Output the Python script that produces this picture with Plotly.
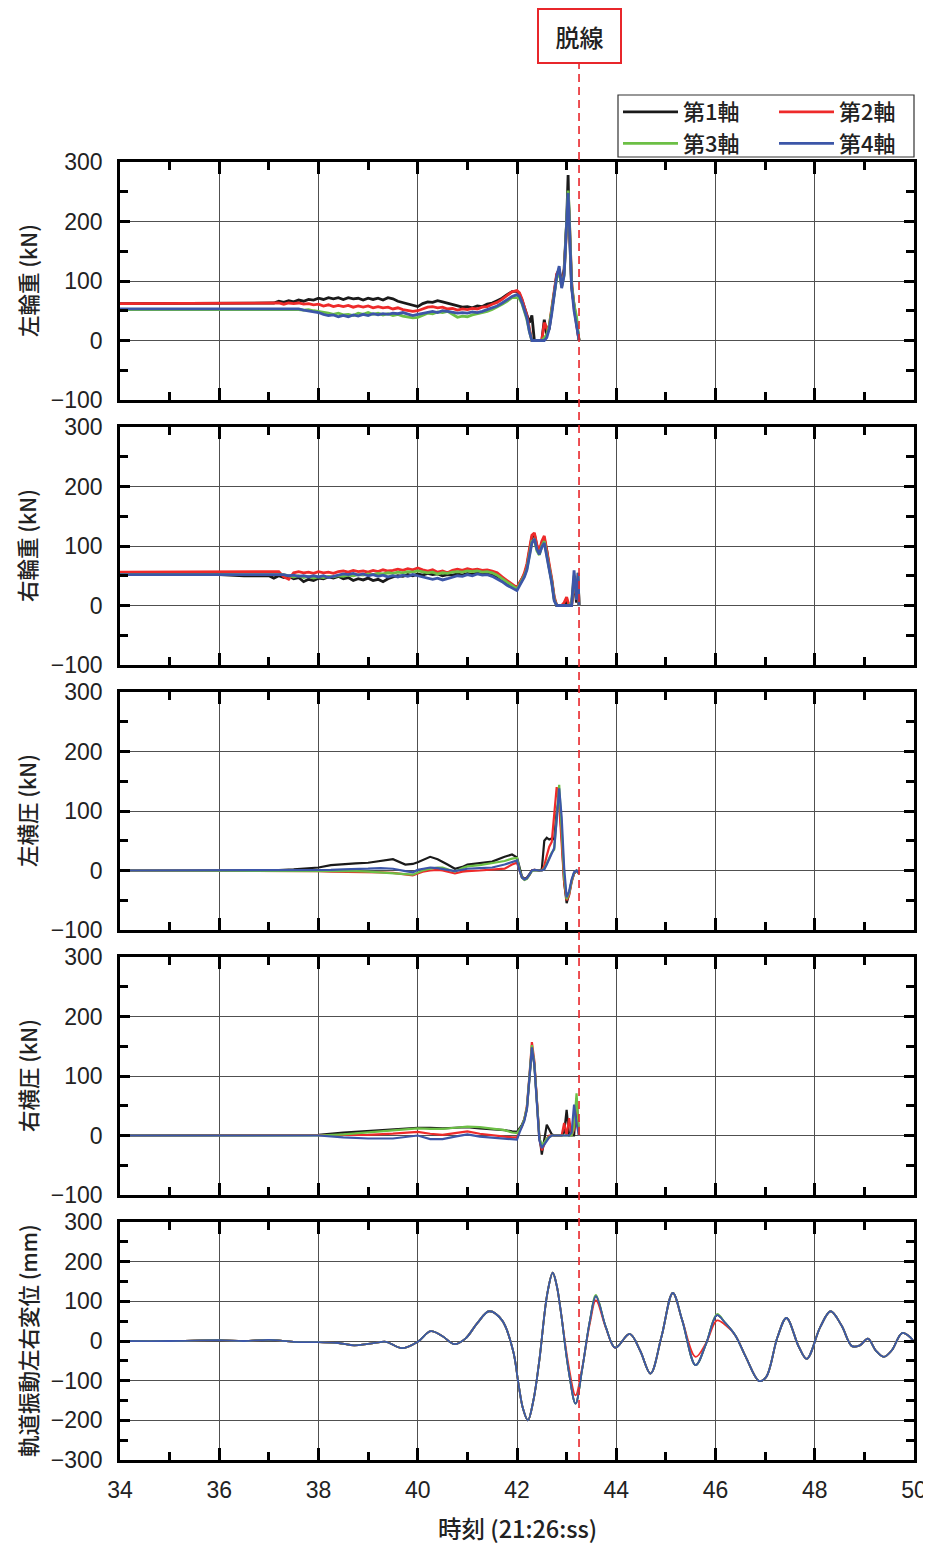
import plotly.graph_objects as go
from plotly.subplots import make_subplots

# ---------------- data ----------------
SERIES_NAMES = ["第1軸", "第2軸", "第3軸", "第4軸"]
SERIES_COLORS = ["#1a1a1a", "#ee2a2a", "#6cbf45", "#3c56a8"]
SERIES_LEGEND = ["legend", "legend2", "legend", "legend2"]

Y_TITLES = ["左輪重 (kN)", "右輪重 (kN)", "左横圧 (kN)", "右横圧 (kN)", "軌道振動左右変位 (mm)"]
X_TITLE = "時刻 (21:26:ss)"
EVENT_LABEL = "脱線"
EVENT_TIME = 43.25

# Panel 1/2 time base
T12 = [34.0, 35.0, 36.0, 36.5, 37.0,
       37.1, 37.2, 37.3, 37.4, 37.5, 37.6, 37.7, 37.8, 37.9, 38.0,
       38.1, 38.2, 38.3, 38.4, 38.5, 38.6, 38.7, 38.8, 38.9, 39.0,
       39.1, 39.2, 39.3, 39.4, 39.5, 39.6, 39.7, 39.8, 39.9, 40.0,
       40.1, 40.2, 40.3, 40.4, 40.5, 40.6, 40.7, 40.8, 40.9, 41.0,
       41.1, 41.2, 41.3, 41.4, 41.5, 41.6, 41.7, 41.8, 41.9]
T1_ACTIVE = [42.0, 42.05, 42.1, 42.15, 42.2, 42.25, 42.3, 42.35, 42.4, 42.45, 42.5, 42.55, 42.6, 42.65,
             42.7, 42.75, 42.8, 42.85, 42.9, 42.95, 43.0, 43.03, 43.05, 43.1, 43.15, 43.2, 43.25]
T2_ACTIVE = [42.0, 42.05, 42.1, 42.15, 42.2, 42.25, 42.3, 42.35, 42.4, 42.45, 42.5, 42.55, 42.6, 42.65,
             42.7, 42.75, 42.8, 42.85, 42.9, 42.95, 43.0, 43.05, 43.1, 43.15, 43.2, 43.23, 43.25]

# 左輪重
L_WHEEL_1 = [62, 62, 62, 62, 62,
             63, 66, 64, 67, 65, 68, 66, 69, 68, 71, 69, 72, 70, 72, 69, 72, 70, 71, 68, 71,
             69, 71, 68, 72, 70, 66, 64, 61, 59, 57, 62, 65, 64, 67, 65, 63, 60, 58, 56, 57,
             55, 58, 57, 61, 63, 67, 71, 77, 82,
             83, 78, 68, 55, 40, 30, 42, 0, 0, 0, 0, 35, 10, 20, 50, 85, 110, 120, 95, 120, 200, 278, 200, 90, 55, 30, 0]
L_WHEEL_2 = [62, 62, 62, 62, 62,
             62, 63, 61, 63, 62, 63, 61, 62, 60, 61, 58, 60, 57, 59, 57, 59, 56, 58, 56, 58,
             55, 57, 55, 56, 53, 55, 52, 51, 49, 50, 53, 56, 57, 55, 56, 53, 54, 51, 53, 52,
             54, 53, 56, 57, 61, 64, 69, 75, 82,
             84, 80, 70, 57, 42, 20, 0, 0, 0, 0, 0, 30, 20, 25, 55, 85, 112, 118, 92, 115, 190, 235, 215, 100, 55, 25, 0]
L_WHEEL_3 = [52, 52, 52, 52, 52,
             52, 52, 53, 52, 53, 52, 51, 52, 50, 49, 47, 46, 44, 46, 43, 44, 42, 46, 44, 47,
             44, 46, 43, 45, 42, 44, 41, 40, 38, 39, 43, 46, 45, 48, 47, 49, 44, 39, 41, 40,
             43, 45, 46, 49, 52, 56, 61, 66, 72,
             72, 70, 62, 50, 35, 15, 0, 0, 0, 0, 0, 5, 10, 25, 50, 80, 105, 115, 90, 110, 200, 252, 220, 95, 60, 40, 0]
L_WHEEL_4 = [53, 53, 53, 53, 53,
             53, 53, 52, 53, 52, 53, 51, 50, 48, 47, 44, 42, 43, 40, 42, 40, 43, 41, 44, 42,
             45, 43, 45, 44, 46, 45, 47, 44, 42, 44, 46, 48, 49, 47, 50, 49, 48, 46, 47, 46,
             48, 47, 49, 52, 54, 58, 63, 68, 74,
             77, 74, 64, 52, 38, 15, 0, 0, 0, 0, 0, 0, 5, 20, 45, 80, 108, 125, 88, 110, 195, 248, 210, 90, 50, 25, 0]

# 右輪重
R_WHEEL_1 = [52, 52, 52, 50, 50,
             46, 50, 47, 49, 45, 47, 40, 44, 42, 46, 45, 48, 46, 49, 45, 47, 42, 45, 43, 46,
             42, 44, 40, 45, 48, 50, 49, 52, 50, 53, 51, 54, 52, 53, 50, 52, 51, 53, 51, 54,
             52, 55, 53, 55, 52, 49, 44, 38, 33,
             30, 37, 44, 52, 66, 90, 115, 120, 100, 90, 105, 112, 92, 64, 42, 12, 0, 0, 0, 0, 8, 0, 0, 40, 5, 45, 0]
R_WHEEL_2 = [56, 56, 56, 56, 56,
             56, 57, 48, 44, 55, 57, 55, 56, 54, 57, 55, 56, 54, 57, 58, 56, 59, 57, 58, 56,
             59, 57, 60, 58, 59, 61, 59, 62, 60, 63, 60, 58, 60, 56, 58, 55, 59, 61, 59, 62,
             60, 61, 59, 60, 58, 55, 48, 42, 36,
             30, 38, 45, 55, 70, 95, 118, 122, 102, 92, 108, 117, 95, 68, 45, 15, 0, 0, 0, 5, 14, 0, 0, 45, 10, 50, 0]
R_WHEEL_3 = [52, 52, 52, 52, 52,
             52, 51, 52, 50, 48, 50, 47, 49, 46, 48, 47, 49, 48, 50, 49, 51, 50, 52, 51, 53,
             52, 54, 53, 55, 54, 56, 55, 57, 56, 58, 56, 55, 56, 53, 55, 54, 56, 57, 56, 58,
             57, 58, 56, 57, 55, 51, 45, 39, 33,
             28, 35, 42, 50, 62, 85, 108, 110, 92, 85, 100, 108, 88, 62, 40, 10, 0, 0, 0, 0, 0, 0, 5, 50, 15, 55, 0]
R_WHEEL_4 = [52, 52, 52, 52, 52,
             52, 51, 52, 50, 51, 49, 50, 48, 50, 48, 50, 47, 49, 51, 53, 52, 54, 51, 53, 50,
             52, 49, 51, 48, 50, 48, 51, 49, 52, 50, 48, 46, 44, 46, 43, 45, 48, 50, 49, 52,
             50, 53, 51, 52, 49, 45, 40, 34, 29,
             25, 33, 40, 48, 60, 82, 105, 112, 95, 86, 98, 105, 85, 60, 38, 8, 0, 0, 0, 0, 0, 0, 0, 59, 10, 55, 0]

# 左横圧
T3 = [34, 36, 37, 37.5, 38, 38.25, 38.5, 38.75, 39, 39.25, 39.5, 39.75, 39.9, 40.0, 40.1, 40.25,
      40.4, 40.5, 40.6, 40.75, 40.9, 41.0, 41.25, 41.5, 41.75, 41.9,
      42.0, 42.05, 42.1, 42.15, 42.2, 42.25, 42.3, 42.35, 42.4, 42.45, 42.5, 42.55, 42.6, 42.65,
      42.7, 42.75, 42.8, 42.85, 42.9, 42.95, 43.0, 43.05, 43.1, 43.15, 43.2, 43.25]
L_LAT_1 = [0, 0, 0, 2, 5, 9, 11, 12, 13, 16, 19, 10, 11, 14, 18, 23, 19, 15, 10, 3, 6, 10, 13, 15, 23, 27,
           22, 5, -10, -14, -12, -6, 0, 1, 0, 0, 2, 50, 55, 52, 54, 52, 100, 120, 60, -20, -55, -40, -18, -5, 0, -4]
L_LAT_2 = [0, 0, 0, 0, -1, -2, -2, -2, -2, -3, -4, -7, -8, -5, -2, 0, 1, 0, -2, -5, -2, -1, 0, 1, 3, 10,
           13, 0, -12, -15, -13, -8, 0, 1, 0, 0, 0, 8, 25, 40, 48, 100, 140, 110, 40, -20, -50, -42, -20, -5, -1, -5]
L_LAT_3 = [0, 0, 0, 0, 0, 0, 0, -1, -2, -3, -4, -6, -7, -3, 0, 3, 5, 5, 2, -2, 4, 7, 9, 12, 16, 20,
           21, 2, -12, -16, -14, -8, -1, 0, 0, 0, 0, 3, 12, 22, 30, 35, 90, 144, 70, -10, -48, -38, -18, -4, 0, -6]
L_LAT_4 = [0, 0, 0, 0, 0, 1, 2, 2, 3, 4, 3, -1, -3, 1, 3, 5, 4, 3, 1, -1, 2, 3, 4, 5, 10, 15,
           17, 0, -12, -15, -13, -7, 0, 1, 0, 0, 0, 2, 10, 20, 28, 38, 85, 138, 90, 5, -45, -35, -15, -3, 0, -5]

# 右横圧
T4 = [34, 36, 37, 37.5, 38, 38.5, 39, 39.5, 39.75, 40.0, 40.25, 40.5, 40.75, 41.0, 41.25, 41.5, 41.75, 41.9,
      42.0, 42.05, 42.1, 42.15, 42.2, 42.25, 42.3, 42.35, 42.4, 42.45, 42.5, 42.55, 42.6, 42.65,
      42.7, 42.75, 42.8, 42.85, 42.9, 42.95, 43.0, 43.05, 43.1, 43.15, 43.2, 43.25]
R_LAT_1 = [0, 0, 0, 0, 1, 5, 8, 10, 12, 13, 13, 12, 13, 14, 12, 11, 9, 7,
           6, 12, 18, 28, 45, 95, 145, 120, 60, 0, -32, -10, 18, 10, 2, 0, 0, 0, 0, 5, 43, 0, 0, 0, 55, 0]
R_LAT_2 = [0, 0, 0, 0, 0, 0, 1, 3, 5, 6, 3, 1, 4, 7, 3, 0, -2, -3,
           -3, 8, 15, 28, 50, 100, 157, 125, 62, -5, -25, -15, -5, 0, 0, 0, 0, 0, 0, 21, 0, 29, 0, 10, 63, 0]
R_LAT_3 = [0, 0, 0, 0, 0, 2, 5, 8, 10, 12, 11, 11, 13, 15, 14, 12, 9, 5,
           4, 10, 16, 28, 48, 98, 152, 120, 60, -5, -15, -12, -5, -2, 0, 0, 0, 0, 0, 0, 0, 0, 0, 15, 71, 0]
R_LAT_4 = [0, 0, 0, 0, 0, -3, -5, -5, -2, 0, -6, -6, -2, 2, -2, -4, -5, -6,
           -7, 5, 14, 25, 45, 95, 148, 118, 55, -8, -21, -15, -8, -3, 0, 0, 0, 0, 0, 0, 0, 0, 5, 52, 20, 0]

# 軌道振動左右変位
T5 = [34, 35, 36, 36.5, 37, 37.5, 38, 38.4, 38.72, 39.0, 39.14, 39.36, 39.68, 40.0, 40.26, 40.5,
      40.74, 40.96, 41.2, 41.44, 41.7, 41.92, 42.03, 42.12, 42.22, 42.33, 42.45, 42.61, 42.72, 42.8,
      42.88, 43.04, 43.18, 43.31, 43.47, 43.59, 43.79, 43.98, 44.27, 44.48, 44.69, 44.91, 45.14, 45.33,
      45.6, 45.81, 46.03, 46.2, 46.4, 46.61, 46.88, 47.02, 47.25, 47.43, 47.68, 47.84, 48.11, 48.32,
      48.54, 48.75, 48.91, 49.07, 49.23, 49.39, 49.55, 49.76, 49.92, 50.0]
TRACK_1 = [0, 0, 2, 0, 3, -2, -3, -5, -11, -7, -5, -2, -18, -2, 25, 12, -8, 6, 45, 75, 52, -24, -108,
           -170, -200, -150, -49, 119, 172, 140, 77, -74, -158, -74, 52, 113, 35, -17, 18, -24, -82, 10,
           121, 52, -61, -7, 65, 45, 14, -40, -101, -91, 10, 58, -15, -45, 35, 75, 39, -13, -11, 6, -24,
           -40, -24, 20, 10, -3]
TRACK_2 = [0, 0, 2, 0, 3, -2, -3, -5, -11, -7, -5, -2, -18, -2, 25, 12, -8, 6, 45, 75, 52, -24, -108,
           -170, -200, -150, -49, 119, 172, 140, 77, -62, -137, -70, 45, 103, 33, -17, 18, -24, -82, 10,
           121, 52, -40, -5, 52, 40, 14, -40, -101, -91, 10, 58, -15, -45, 35, 75, 39, -13, -11, 6, -24,
           -40, -24, 20, 10, -3]
TRACK_3 = [0, 0, 2, 0, 3, -2, -3, -5, -11, -7, -5, -2, -18, -2, 25, 12, -8, 6, 45, 75, 52, -24, -108,
           -170, -200, -150, -49, 119, 172, 140, 77, -74, -158, -74, 52, 116, 35, -17, 18, -24, -82, 10,
           121, 52, -61, -7, 68, 45, 14, -40, -101, -91, 10, 58, -15, -45, 35, 75, 39, -13, -11, 6, -24,
           -40, -24, 20, 10, -3]
TRACK_4 = [0, 0, 2, 0, 3, -2, -3, -5, -11, -7, -5, -2, -18, -2, 25, 12, -8, 6, 45, 75, 52, -24, -108,
           -170, -200, -150, -49, 119, 172, 140, 77, -74, -158, -74, 52, 113, 35, -17, 18, -24, -82, 10,
           121, 52, -61, -7, 65, 45, 14, -40, -101, -91, 10, 58, -15, -45, 35, 75, 39, -13, -11, 6, -24,
           -40, -24, 20, 10, -3]

PANELS = [
    (T12 + T1_ACTIVE, [L_WHEEL_1, L_WHEEL_2, L_WHEEL_3, L_WHEEL_4], "linear", 2.8),
    (T12 + T2_ACTIVE, [R_WHEEL_1, R_WHEEL_2, R_WHEEL_3, R_WHEEL_4], "linear", 2.8),
    (T3, [L_LAT_1, L_LAT_2, L_LAT_3, L_LAT_4], "linear", 2.2),
    (T4, [R_LAT_1, R_LAT_2, R_LAT_3, R_LAT_4], "linear", 2.2),
    (T5, [TRACK_1, TRACK_2, TRACK_3, TRACK_4], "spline", 1.8),
]
Y_RANGES = [[-100, 300]] * 4 + [[-300, 300]]

# ---------------- figure ----------------
# page body adds an 8px offset, so the figure is drawn 8px smaller
OFF = 8
W, H = 931 - OFF, 1544 - OFF
REF_L, REF_R, REF_T, REF_B = 120, 914, 162, 1460      # plot area in page pixels
ML, MT = REF_L - OFF, REF_T - OFF
MR, MB = W - (REF_R - OFF), H - (REF_B - OFF)
PW, PH = REF_R - REF_L, REF_B - REF_T
GAP = 27


def px(xp):
    return (xp - REF_L) / PW


def py(yp):
    return (REF_B - yp) / PH


fig = make_subplots(rows=5, cols=1, shared_xaxes=True, vertical_spacing=GAP / PH)

for r, (tt, series, shape, lw) in enumerate(PANELS, start=1):
    for k, vals in enumerate(series):
        fig.add_trace(go.Scatter(
            x=tt, y=vals, mode="lines", name=SERIES_NAMES[k],
            line=dict(color=SERIES_COLORS[k], width=lw, shape=shape),
            legend=SERIES_LEGEND[k], legendgroup=SERIES_NAMES[k], showlegend=(r == 1),
        ), row=r, col=1)

xtick_font = dict(family="Liberation Sans, Arial, sans-serif", size=23, color="#222")
ytick_font = dict(family="Liberation Sans, Arial, sans-serif", size=23, color="#222")
cjk = "Noto Sans CJK JP, sans-serif"

for r in range(1, 6):
    fig.update_xaxes(
        row=r, col=1, range=[34, 50], tick0=34, dtick=2, automargin=False,
        showgrid=True, gridcolor="#505050", gridwidth=1, zeroline=False,
        showline=True, linecolor="black", linewidth=2.5, mirror="ticks",
        ticks="inside", ticklen=12, tickwidth=2.5, tickcolor="black",
        minor=dict(dtick=1, ticks="inside", ticklen=8, tickwidth=2.5, tickcolor="black", showgrid=False),
        showticklabels=(r == 5), tickfont=xtick_font, ticklabelstandoff=8, ticklabeloverflow="allow",
    )
    fig.update_yaxes(
        row=r, col=1, range=Y_RANGES[r - 1], dtick=100, automargin=False,
        showgrid=True, gridcolor="#505050", gridwidth=1, zeroline=False,
        showline=True, linecolor="black", linewidth=2.5, mirror="ticks",
        ticks="inside", ticklen=10, tickwidth=2.5, tickcolor="black",
        minor=dict(dtick=50, ticks="inside", ticklen=8, tickwidth=2.5, tickcolor="black", showgrid=False),
        tickfont=ytick_font, ticklabelstandoff=10,
    )

annotations = []
for r in range(1, 6):
    yname = "y" if r == 1 else f"y{r}"
    annotations.append(dict(
        text=Y_TITLES[r - 1], textangle=-90, xref="paper", x=px(27), xanchor="center",
        yref=f"{yname} domain", y=0.5, yanchor="middle", showarrow=False,
        font=dict(family=cjk, size=21.5, color="#222", weight=500),
    ))
annotations.append(dict(
    text=X_TITLE, xref="paper", x=0.5, xanchor="center", yref="paper", y=py(1528),
    yanchor="middle", showarrow=False, font=dict(family=cjk, size=23.5, color="#222", weight=500),
))
annotations.append(dict(
    text=EVENT_LABEL, xref="x", x=EVENT_TIME, xanchor="center", yref="paper",
    y=py(36), yanchor="middle", showarrow=False,
    font=dict(family=cjk, size=24, color="#222", weight=500),
    bordercolor="#e8262b", borderwidth=2, borderpad=6, width=69, height=40, bgcolor="white",
))

legend_common = dict(
    orientation="v", xanchor="left", yanchor="top", y=py(91), itemwidth=55,
    bgcolor="rgba(0,0,0,0)", borderwidth=0, tracegroupgap=0,
    font=dict(family=cjk, size=22, color="#222", weight=500),
)

fig.update_layout(
    width=W, height=H,
    margin=dict(l=ML, r=MR, t=MT, b=MB, autoexpand=False),
    paper_bgcolor="white", plot_bgcolor="white",
    annotations=annotations,
    shapes=[
        dict(type="line", xref="x", x0=EVENT_TIME, x1=EVENT_TIME, yref="paper",
             y0=0, y1=py(64), line=dict(color="#e8262b", width=1.6, dash="8px,5px"), layer="above"),
        dict(type="rect", xref="paper", yref="paper", x0=px(618), x1=px(914), y0=py(157), y1=py(95),
             line=dict(color="#333", width=1.2), fillcolor="rgba(0,0,0,0)", layer="above"),
    ],
    legend=dict(x=px(618), **legend_common),
    legend2=dict(x=px(774), **legend_common),
    showlegend=True,
)

fig.write_html("out.html")
